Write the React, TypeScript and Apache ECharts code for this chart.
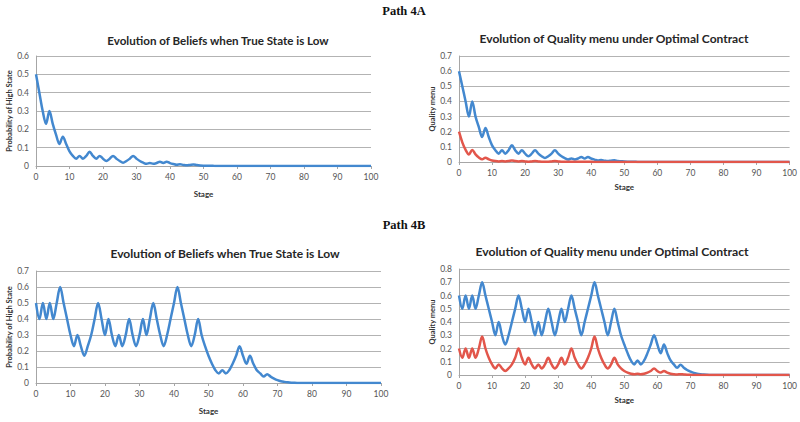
import React, { useEffect, useRef } from "react";
import * as echarts from "echarts";

const stageTicks = [0, 10, 20, 30, 40, 50, 60, 70, 80, 90, 100];

// Path 4A – beliefs (probability of high state) per stage 0..100
const beliefs4A = [
  0.5, 0.4, 0.3, 0.23, 0.3, 0.23, 0.17, 0.12, 0.16, 0.12,
  0.08, 0.055, 0.04, 0.055, 0.04, 0.055, 0.078, 0.055, 0.04, 0.055,
  0.04, 0.027, 0.04, 0.055, 0.04, 0.027, 0.018, 0.027, 0.04, 0.055,
  0.04, 0.027, 0.018, 0.012, 0.016, 0.012, 0.016, 0.023, 0.016, 0.023,
  0.016, 0.011, 0.007, 0.009, 0.006, 0.004, 0.006, 0.008, 0.005, 0.003,
  0.002, 0.0015, 0.001, 0.0007, 0.0005, 0.0003, 0.0002, 0.0001, 0, 0,
  0, 0, 0, 0, 0, 0, 0, 0, 0, 0,
  0, 0, 0, 0, 0, 0, 0, 0, 0, 0,
  0, 0, 0, 0, 0, 0, 0, 0, 0, 0,
  0, 0, 0, 0, 0, 0, 0, 0, 0, 0,
  0,
];

// Path 4A – quality menu (high type, blue)
const qualityHigh4A = [
  0.6, 0.5, 0.4, 0.3, 0.4, 0.3, 0.23, 0.165, 0.225, 0.165,
  0.11, 0.078, 0.055, 0.078, 0.055, 0.078, 0.11, 0.078, 0.055, 0.078,
  0.055, 0.038, 0.055, 0.078, 0.055, 0.038, 0.026, 0.038, 0.055, 0.078,
  0.055, 0.038, 0.026, 0.017, 0.023, 0.017, 0.023, 0.033, 0.023, 0.033,
  0.023, 0.016, 0.01, 0.013, 0.009, 0.006, 0.009, 0.012, 0.007, 0.005,
  0.003, 0.002, 0.0015, 0.001, 0.0007, 0.0004, 0.0002, 0.0001, 0, 0,
  0, 0, 0, 0, 0, 0, 0, 0, 0, 0,
  0, 0, 0, 0, 0, 0, 0, 0, 0, 0,
  0, 0, 0, 0, 0, 0, 0, 0, 0, 0,
  0, 0, 0, 0, 0, 0, 0, 0, 0, 0,
  0,
];

// Path 4A – quality menu (low type, red)
const qualityLow4A = [
  0.2, 0.13, 0.08, 0.05, 0.08, 0.05, 0.03, 0.018, 0.028, 0.018,
  0.01, 0.006, 0.004, 0.006, 0.004, 0.006, 0.01, 0.006, 0.004, 0.006,
  0.004, 0.002, 0.004, 0.006, 0.004, 0.002, 0.001, 0.002, 0.004, 0.006,
  0.004, 0.002, 0.001, 0.001, 0.001, 0.001, 0.001, 0.001, 0.001, 0.001,
  0.001, 0.0005, 0, 0, 0, 0, 0, 0, 0, 0,
  0, 0, 0, 0, 0, 0, 0, 0, 0, 0,
  0, 0, 0, 0, 0, 0, 0, 0, 0, 0,
  0, 0, 0, 0, 0, 0, 0, 0, 0, 0,
  0, 0, 0, 0, 0, 0, 0, 0, 0, 0,
  0, 0, 0, 0, 0, 0, 0, 0, 0, 0,
  0,
];

// Path 4B – beliefs
const beliefs4B = [
  0.5, 0.4, 0.5, 0.4, 0.5, 0.4, 0.5, 0.6, 0.5, 0.4,
  0.3, 0.23, 0.3, 0.23, 0.17, 0.23, 0.3, 0.4, 0.5, 0.4,
  0.3, 0.4, 0.3, 0.23, 0.3, 0.23, 0.3, 0.4, 0.3, 0.23,
  0.3, 0.4, 0.3, 0.4, 0.5, 0.4, 0.3, 0.23, 0.3, 0.4,
  0.5, 0.6, 0.5, 0.4, 0.3, 0.23, 0.3, 0.4, 0.3, 0.23,
  0.17, 0.12, 0.08, 0.06, 0.08, 0.06, 0.08, 0.12, 0.17, 0.23,
  0.17, 0.12, 0.17, 0.12, 0.08, 0.06, 0.04, 0.055, 0.04, 0.028,
  0.018, 0.011, 0.007, 0.004, 0.002, 0.001, 0.0005, 0, 0, 0,
  0, 0, 0, 0, 0, 0, 0, 0, 0, 0,
  0, 0, 0, 0, 0, 0, 0, 0, 0, 0,
  0,
];

// Path 4B – quality menu (high type, blue)
const qualityHigh4B = [
  0.6, 0.5, 0.6, 0.5, 0.6, 0.5, 0.6, 0.7, 0.6, 0.5,
  0.4, 0.3, 0.4, 0.3, 0.23, 0.3, 0.4, 0.5, 0.6, 0.5,
  0.4, 0.5, 0.4, 0.3, 0.4, 0.3, 0.4, 0.5, 0.4, 0.3,
  0.4, 0.5, 0.4, 0.5, 0.6, 0.5, 0.4, 0.3, 0.4, 0.5,
  0.6, 0.7, 0.6, 0.5, 0.4, 0.3, 0.4, 0.5, 0.4, 0.3,
  0.23, 0.165, 0.11, 0.08, 0.11, 0.08, 0.11, 0.165, 0.23, 0.3,
  0.23, 0.165, 0.23, 0.165, 0.11, 0.08, 0.055, 0.078, 0.055, 0.038,
  0.026, 0.016, 0.01, 0.006, 0.003, 0.0015, 0.0007, 0, 0, 0,
  0, 0, 0, 0, 0, 0, 0, 0, 0, 0,
  0, 0, 0, 0, 0, 0, 0, 0, 0, 0,
  0,
];

// Path 4B – quality menu (low type, red)
const qualityLow4B = [
  0.2, 0.13, 0.2, 0.13, 0.2, 0.13, 0.2, 0.29, 0.2, 0.13,
  0.08, 0.05, 0.08, 0.05, 0.03, 0.05, 0.08, 0.13, 0.2, 0.13,
  0.08, 0.13, 0.08, 0.05, 0.08, 0.05, 0.08, 0.13, 0.08, 0.05,
  0.08, 0.13, 0.08, 0.13, 0.2, 0.13, 0.08, 0.05, 0.08, 0.13,
  0.2, 0.29, 0.2, 0.13, 0.08, 0.05, 0.08, 0.13, 0.08, 0.05,
  0.03, 0.018, 0.01, 0.006, 0.01, 0.006, 0.01, 0.018, 0.03, 0.05,
  0.03, 0.018, 0.03, 0.018, 0.01, 0.006, 0.004, 0.006, 0.004, 0.002,
  0.001, 0.0005, 0, 0, 0, 0, 0, 0, 0, 0,
  0, 0, 0, 0, 0, 0, 0, 0, 0, 0,
  0, 0, 0, 0, 0, 0, 0, 0, 0, 0,
  0,
];

const pathTitles = ["Path 4A", "Path 4B"];
const chartTitles = [
  "Evolution of Beliefs when True State is Low",
  "Evolution of Quality menu under Optimal Contract",
  "Evolution of Beliefs when True State is Low",
  "Evolution of Quality menu under Optimal Contract",
];
const yNames = ["Probability of High State", "Quality menu", "Probability of High State", "Quality menu"];
const yMax = [0.6, 0.7, 0.7, 0.8];

const BLUE = "#4388cf";
const RED = "#e2564b";
const FONT = "Lato, 'Liberation Sans', sans-serif";

const toPairs = (arr: number[]) => arr.map((v, i) => [i, v]);

export default function App() {
  const ref = useRef<HTMLDivElement>(null);
  useEffect(() => {
    if (!ref.current) return;
    const chart = echarts.init(ref.current, undefined, { renderer: "svg" });

    const grids = [
      { left: 36, top: 56, width: 335, height: 110 },
      { left: 459, top: 56, width: 334, height: 106 },
      { left: 36, top: 271, width: 345, height: 112 },
      { left: 459, top: 269, width: 334, height: 106 },
    ];
    const titlePos = [
      [218, 40],
      [614, 38],
      [225, 253],
      [612, 251],
    ];
    const titleSize = [11.6, 12, 12, 12.2];

    const xAxes = grids.map((_, i) => ({
      type: "value",
      gridIndex: i,
      min: 0,
      max: 100,
      interval: 10,
      name: "Stage",
      nameLocation: "middle",
      nameGap: i % 2 === 0 ? 24 : 21,
      nameTextStyle: { fontSize: 8, fontWeight: "bold", color: "#333", fontFamily: FONT },
      axisLine: { show: true, lineStyle: { color: "#a6a6a6", width: 1 } },
      axisTick: { show: true, length: 3, lineStyle: { color: "#a6a6a6" } },
      axisLabel: { fontSize: 8.5, color: "#555", margin: 6, fontFamily: FONT },
      splitLine: { show: false },
    }));

    const yAxes = grids.map((_, i) => ({
      type: "value",
      gridIndex: i,
      min: 0,
      max: yMax[i],
      interval: 0.1,
      name: yNames[i],
      nameLocation: "middle",
      nameRotate: 90,
      nameGap: i % 2 === 0 ? 22 : 21,
      nameTextStyle: { fontSize: 7.5, fontWeight: "bold", color: "#333", fontFamily: FONT },
      axisLine: { show: true, lineStyle: { color: "#a6a6a6", width: 1 } },
      axisTick: { show: false },
      axisLabel: { fontSize: 8.5, color: "#555", margin: 7, fontFamily: FONT },
      splitLine: { show: true, lineStyle: { color: "#b3b3b3", width: 1 } },
    }));

    const lineSeries = (data: number[], idx: number, color: string) => ({
      type: "line",
      xAxisIndex: idx,
      yAxisIndex: idx,
      data: toPairs(data),
      smooth: 0.35,
      showSymbol: false,
      symbol: "none",
      lineStyle: { color, width: 2.5 },
      itemStyle: { color },
      z: color === BLUE ? 3 : 4,
    });

    const graphics: any[] = [
      {
        type: "text",
        x: 404,
        y: 11,
        style: {
          text: pathTitles[0],
          font: "bold 12.5px 'Liberation Serif', 'Times New Roman', serif",
          fill: "#111",
          align: "center",
          verticalAlign: "middle",
        },
      },
      {
        type: "text",
        x: 404,
        y: 225,
        style: {
          text: pathTitles[1],
          font: "bold 12.5px 'Liberation Serif', 'Times New Roman', serif",
          fill: "#111",
          align: "center",
          verticalAlign: "middle",
        },
      },
      ...chartTitles.map((t, i) => ({
        type: "text",
        x: titlePos[i][0],
        y: titlePos[i][1],
        style: {
          text: t,
          font: `bold ${titleSize[i]}px Lato, 'Liberation Sans', sans-serif`,
          fill: "#262626",
          align: "center",
          verticalAlign: "middle",
        },
      })),
    ];

    chart.setOption({
      animation: false,
      backgroundColor: "#ffffff",
      textStyle: { fontFamily: FONT },
      grid: grids,
      xAxis: xAxes,
      yAxis: yAxes,
      graphic: graphics,
      series: [
        lineSeries(beliefs4A, 0, BLUE),
        lineSeries(qualityHigh4A, 1, BLUE),
        lineSeries(qualityLow4A, 1, RED),
        lineSeries(beliefs4B, 2, BLUE),
        lineSeries(qualityHigh4B, 3, BLUE),
        lineSeries(qualityLow4B, 3, RED),
      ],
    });
    return () => chart.dispose();
  }, []);

  return (
    <div
      ref={ref}
      style={{ position: "fixed", left: 0, top: 0, width: 800, height: 422, background: "#fff" }}
    />
  );
}
